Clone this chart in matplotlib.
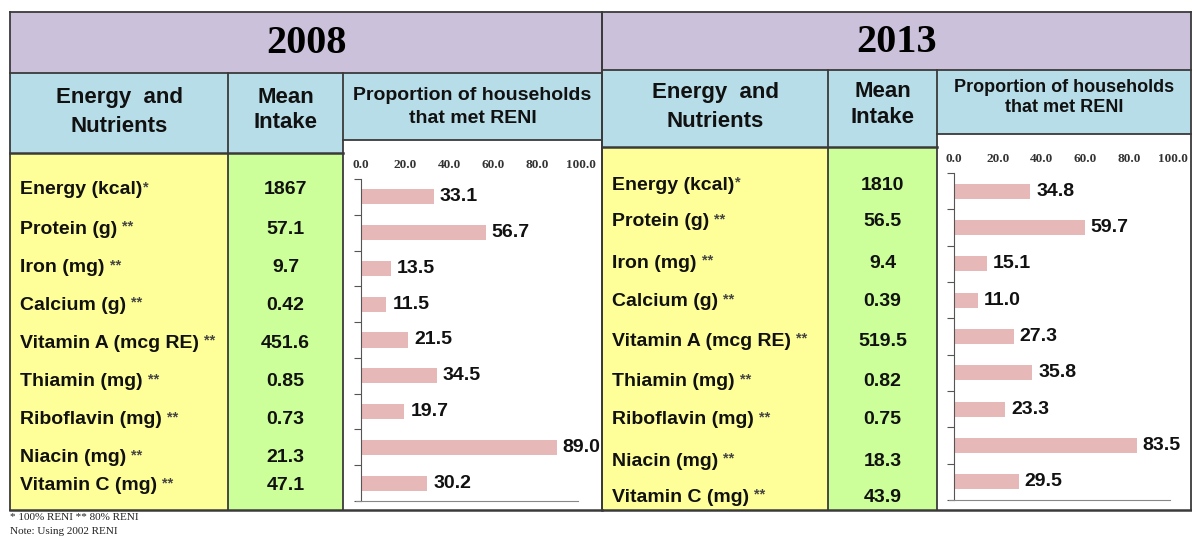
import matplotlib
matplotlib.use("Agg")
import matplotlib.pyplot as plt
from matplotlib.patches import Rectangle
import numpy as np

# ---------------- data ----------------
nutrients = ["Energy (kcal)", "Protein (g)", "Iron (mg)", "Calcium (g)",
             "Vitamin A (mcg RE)", "Thiamin (mg)", "Riboflavin (mg)",
             "Niacin (mg)", "Vitamin C (mg)"]
reni_marks = ["*", "**", "**", "**", "**", "**", "**", "**", "**"]
years = ["2008", "2013"]
mean_2008 = ["1867", "57.1", "9.7", "0.42", "451.6", "0.85", "0.73", "21.3", "47.1"]
mean_2013 = ["1810", "56.5", "9.4", "0.39", "519.5", "0.82", "0.75", "18.3", "43.9"]
prop_2008 = [33.1, 56.7, 13.5, 11.5, 21.5, 34.5, 19.7, 89.0, 30.2]
prop_2013 = [34.8, 59.7, 15.1, 11.0, 27.3, 35.8, 23.3, 83.5, 29.5]
xticks = [0, 20, 40, 60, 80, 100]
header_col1 = "Energy  and\nNutrients"
header_col2 = "Mean\nIntake"
header_col3 = "Proportion of households\nthat met RENI"
footnotes = ["* 100% RENI ** 80% RENI", "Note: Using 2002 RENI"]

# ---------------- layout (pixels) ----------------
W, H = 1192, 539
SANS = "Liberation Sans"
SERIF = "Liberation Serif"
C_TITLE = "#CCC1DA"
C_HEAD = "#B7DDE8"
C_YEL = "#FFFF99"
C_GRN = "#CCFF99"
C_BAR = "#E6B9B8"
C_LINE = "#3A3A3A"

panels = [
    dict(x0=10, x1=228, x2=343, x3=602, ytop=12, ytitle=73, yh3=140, yh=153, ybot=510,
         rows=[190, 229, 268, 305, 343, 382, 420, 458, 486],
         spine=361, scale=2.2, atop=179, abot=501, head_fs=16, head3_fs=14,
         means=mean_2008, props=prop_2008, year=years[0],
         head_y=(112, 110, 107), head3_ls=1.4),
    dict(x0=602, x1=828, x2=937, x3=1191, ytop=12, ytitle=70, yh3=134, yh=147, ybot=510,
         rows=[185, 222, 263, 302, 341, 382, 420, 461, 497],
         spine=954, scale=2.19, atop=173, abot=500, head_fs=16, head3_fs=13,
         means=mean_2013, props=prop_2013, year=years[1],
         head_y=(107, 104.5, 97.5), head3_ls=1.25),
]

fig = plt.figure(figsize=(W / 100, H / 100), dpi=100)
fig.patch.set_facecolor("white")
bg = fig.add_axes([0, 0, 1, 1])
bg.set_xlim(0, W)
bg.set_ylim(H, 0)
bg.axis("off")

def rect(x0, y0, x1, y1, color):
    bg.add_patch(Rectangle((x0, y0), x1 - x0, y1 - y0, facecolor=color,
                           edgecolor="none", zorder=1))

def line(xa, ya, xb, yb, lw=1.3):
    bg.plot([xa, xb], [ya, yb], color=C_LINE, lw=lw, zorder=3,
            solid_capstyle="projecting")

label_texts = []
for p in panels:
    x0, x1, x2, x3 = p["x0"], p["x1"], p["x2"], p["x3"]
    yt, yti, yh3, yh, yb = p["ytop"], p["ytitle"], p["yh3"], p["yh"], p["ybot"]
    rect(x0, yt, x3, yti, C_TITLE)
    rect(x0, yti, x2, yh, C_HEAD)
    rect(x2, yti, x3, yh3, C_HEAD)
    rect(x0, yh, x1, yb, C_YEL)
    rect(x1, yh, x2, yb, C_GRN)
    rect(x2, yh3, x3, yb, "white")
    # borders
    line(x0, yt, x3, yt)
    line(x0, yt, x0, yb)
    line(x3, yt, x3, yb)
    line(x0, yb, x3, yb, lw=1.8)
    line(x0, yti, x3, yti)
    line(x1, yti, x1, yb)
    line(x2, yti, x2, yb)
    line(x0, yh, x2, yh, lw=1.8)
    line(x2, yh3, x3, yh3)
    # title
    bg.text((x0 + x3) / 2, (yt + yti) / 2 + 1, p["year"], fontsize=29,
            fontweight="bold", family=SERIF, ha="center", va="center", zorder=4)
    # headers
    hy1, hy2, hy3 = p["head_y"]
    bg.text((x0 + x1) / 2, hy1, header_col1, fontsize=p["head_fs"], fontweight="bold",
            family=SANS, ha="center", va="center", linespacing=1.55, zorder=4,
            color="#111111")
    bg.text((x1 + x2) / 2, hy2, header_col2, fontsize=p["head_fs"], fontweight="bold",
            family=SANS, ha="center", va="center", linespacing=1.3, zorder=4,
            color="#111111")
    bg.text((x2 + x3) / 2, hy3, header_col3, fontsize=p["head3_fs"], fontweight="bold",
            family=SANS, ha="center", va="center", linespacing=p["head3_ls"], zorder=4,
            color="#111111")
    # rows
    for name, mark, mean, y in zip(nutrients, reni_marks, p["means"], p["rows"]):
        t = bg.text(x0 + 10, y, name, fontsize=14, fontweight="bold", family=SANS,
                    ha="left", va="center", zorder=4, color="#111111")
        label_texts.append((t, mark, y))
        bg.text((x1 + x2) / 2, y, mean, fontsize=14, fontweight="bold", family=SANS,
                ha="center", va="center", zorder=4, color="#111111")

    # bar chart axes
    L = p["spine"] - 2.5 * p["scale"]
    R = p["spine"] + 100 * p["scale"]
    ax = fig.add_axes([L / W, 1 - p["abot"] / H, (R - L) / W, (p["abot"] - p["atop"]) / H])
    ax.patch.set_alpha(0)
    n = len(nutrients)
    pos = np.arange(n) + 0.5
    ax.barh(pos, p["props"], height=0.42, color=C_BAR, zorder=2)
    for v, yy in zip(p["props"], pos):
        ax.annotate(f"{v:.1f}", xy=(v, yy), xytext=(6, 0), textcoords="offset pixels",
                    ha="left", va="center", fontsize=14, fontweight="bold",
                    family=SANS, color="#111111", annotation_clip=False)
    ax.set_xlim(-2.5, 100)
    ax.set_ylim(n, 0)
    for s in ("top", "right"):
        ax.spines[s].set_visible(False)
    ax.spines["left"].set_position(("data", 0))
    ax.spines["left"].set_color("#555555")
    ax.spines["bottom"].set_color("#888888")
    ax.spines["bottom"].set_bounds(-2.5, 98.5)
    ax.set_yticks(np.arange(n + 1))
    ax.set_yticklabels([])
    ax.tick_params(axis="y", direction="out", length=5, color="#555555")
    ax.xaxis.tick_top()
    ax.set_xticks(xticks)
    ax.set_xticklabels([f"{v:.1f}" for v in xticks], family=SERIF, fontsize=9.5,
                       fontweight="bold", color="#333333")
    ax.tick_params(axis="x", length=0, pad=6)

# stars after nutrient names
fig.canvas.draw()
renderer = fig.canvas.get_renderer()
inv = bg.transData.inverted()
for t, mark, y in label_texts:
    bb = t.get_window_extent(renderer)
    xr = inv.transform((bb.x1, bb.y0))[0]
    gap = 1 if mark == "*" else 5
    bg.text(xr + gap, y - 3, mark, fontsize=10.5, fontweight="bold", family=SANS,
            ha="left", va="center", color="#444444", zorder=4)

# footnotes
bg.text(10, 518, footnotes[0], fontsize=8, family=SERIF, ha="left", va="center",
        color="#222222")
bg.text(10, 531, footnotes[1], fontsize=8, family=SERIF, ha="left", va="center",
        color="#222222")

fig.savefig("out.png", dpi=100)
